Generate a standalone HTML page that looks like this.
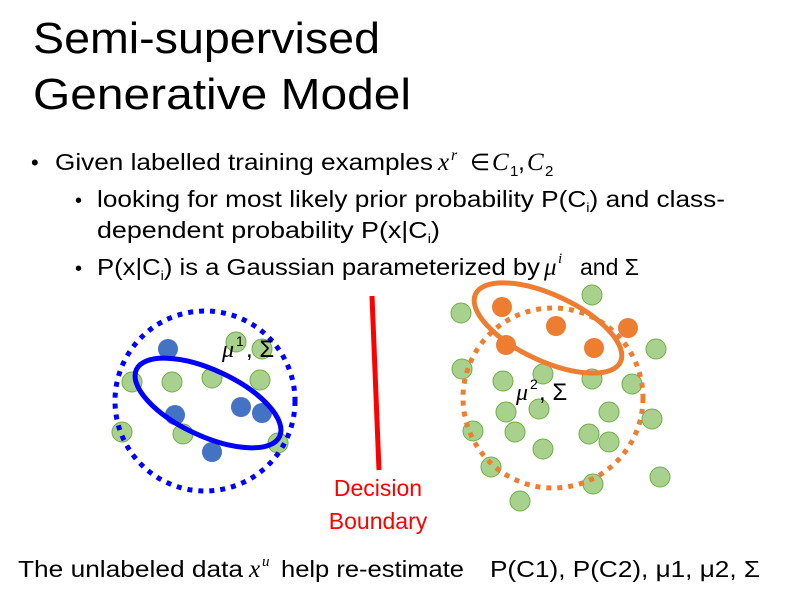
<!DOCTYPE html>
<html><head><meta charset="utf-8"><style>
html,body{margin:0;padding:0;background:#fff;}
svg{display:block;}
text{font-family:"Liberation Sans",sans-serif;fill:#000;}
.m{font-family:"Liberation Serif",serif;font-style:italic;}
</style></head><body>
<svg width="785" height="595" viewBox="0 0 785 595" xmlns="http://www.w3.org/2000/svg">
<text x="33" y="53" font-size="44" textLength="347" lengthAdjust="spacingAndGlyphs">Semi-supervised</text>
<text x="33" y="109" font-size="44" textLength="378" lengthAdjust="spacingAndGlyphs">Generative Model</text>

<text x="31" y="170" font-size="22">•</text>
<text x="55" y="170" font-size="23" textLength="378" lengthAdjust="spacingAndGlyphs">Given labelled training examples</text>
<text x="438" y="170" font-size="25" class="m">x</text><text x="451" y="160" font-size="16" class="m">r</text>
<text x="470" y="170" font-size="23">∈</text>
<text x="492" y="170" font-size="25" class="m">C</text><text x="510" y="176" font-size="15" font-family="Liberation Serif">1</text>
<text x="518" y="170" font-size="25">,</text>
<text x="527" y="170" font-size="25" class="m">C</text><text x="545" y="176" font-size="15" font-family="Liberation Serif">2</text>

<text x="75" y="207" font-size="20">•</text>
<text x="97" y="207" font-size="23" textLength="628" lengthAdjust="spacingAndGlyphs">looking for most likely prior probability P(C<tspan font-size="13" dy="5">i</tspan><tspan dy="-5">) and class-</tspan></text>
<text x="97" y="238" font-size="23" textLength="343" lengthAdjust="spacingAndGlyphs">dependent probability P(x|C<tspan font-size="13" dy="5">i</tspan><tspan dy="-5">)</tspan></text>
<text x="75" y="275" font-size="20">•</text>
<text x="97" y="275" font-size="23" textLength="443" lengthAdjust="spacingAndGlyphs">P(x|C<tspan font-size="13" dy="5">i</tspan><tspan dy="-5">) is a Gaussian parameterized by</tspan></text>
<text x="544" y="275" font-size="25" class="m">μ</text><text x="558" y="263" font-size="15" class="m">i</text>
<text x="580" y="275" font-size="23">and Σ</text>

<!-- left cluster -->
<g fill="#a9d18e" stroke="#70ad47" stroke-width="1">
<circle cx="236" cy="342" r="10"/><circle cx="262" cy="349" r="10"/>
<circle cx="132" cy="382" r="10"/><circle cx="172" cy="382" r="10"/><circle cx="212" cy="378" r="10"/><circle cx="260" cy="380" r="10"/>
<circle cx="183" cy="434" r="10"/><circle cx="122" cy="432" r="10"/><circle cx="278" cy="443" r="10"/>
</g>
<g fill="#4472c4">
<circle cx="168" cy="349" r="10"/><circle cx="175" cy="415" r="10"/><circle cx="241" cy="407" r="10"/><circle cx="262" cy="413" r="10"/><circle cx="212" cy="452" r="10"/>
</g>
<circle cx="205" cy="401" r="90" fill="none" stroke="#0000ff" stroke-width="5" stroke-dasharray="5 6"/>
<ellipse cx="208" cy="403" rx="79" ry="33" transform="rotate(25 208 403)" fill="none" stroke="#0000ff" stroke-width="5"/>
<text x="222" y="357" font-size="24" class="m">μ</text><text x="236" y="346" font-size="14" font-family="Liberation Serif">1</text><text x="246" y="357" font-size="24" font-family="Liberation Serif">, Σ</text>

<!-- decision boundary -->
<line x1="372" y1="296" x2="379" y2="470" stroke="#ff0000" stroke-width="5"/>
<text x="378" y="496" font-size="23" fill="#ff0000" style="fill:#ff0000" text-anchor="middle">Decision</text>
<text x="378" y="529" font-size="23" style="fill:#ff0000" text-anchor="middle">Boundary</text>

<!-- right cluster -->
<g fill="#a9d18e" stroke="#70ad47" stroke-width="1">
<circle cx="461" cy="313" r="10"/><circle cx="592" cy="295" r="10"/><circle cx="656" cy="349" r="10"/><circle cx="462" cy="369" r="10"/>
<circle cx="503" cy="381" r="10"/><circle cx="543" cy="374" r="10"/><circle cx="592" cy="379" r="10"/><circle cx="632" cy="384" r="10"/>
<circle cx="539" cy="409" r="10"/><circle cx="506" cy="412" r="10"/><circle cx="609" cy="412" r="10"/><circle cx="652" cy="419" r="10"/>
<circle cx="473" cy="431" r="10"/><circle cx="515" cy="432" r="10"/><circle cx="589" cy="434" r="10"/><circle cx="609" cy="442" r="10"/>
<circle cx="543" cy="449" r="10"/><circle cx="491" cy="467" r="10"/><circle cx="660" cy="477" r="10"/><circle cx="593" cy="484" r="10"/><circle cx="520" cy="501" r="10"/>
</g>
<g fill="#ed7d31">
<circle cx="502" cy="307" r="10"/><circle cx="556" cy="326" r="10"/><circle cx="628" cy="328" r="10"/><circle cx="506" cy="345" r="10"/><circle cx="594" cy="348" r="10"/>
</g>
<circle cx="553" cy="398" r="90" fill="none" stroke="#ed7d31" stroke-width="5" stroke-dasharray="5 6"/>
<ellipse cx="548" cy="328" rx="80" ry="33" transform="rotate(25 548 328)" fill="none" stroke="#ed7d31" stroke-width="5"/>
<text x="516" y="400" font-size="24" class="m">μ</text><text x="530" y="389" font-size="14" font-family="Liberation Serif">2</text><text x="539" y="400" font-size="24" font-family="Liberation Serif">, Σ</text>

<!-- bottom -->
<text x="18" y="577" font-size="23" textLength="225" lengthAdjust="spacingAndGlyphs">The unlabeled data</text>
<text x="249" y="577" font-size="25" class="m">x</text><text x="262" y="566" font-size="15" class="m">u</text>
<text x="281" y="577" font-size="23" textLength="183" lengthAdjust="spacingAndGlyphs">help re-estimate</text>
<text x="490" y="577" font-size="23" textLength="270" lengthAdjust="spacingAndGlyphs">P(C1), P(C2), μ1, μ2, Σ</text>
</svg>
</body></html>
